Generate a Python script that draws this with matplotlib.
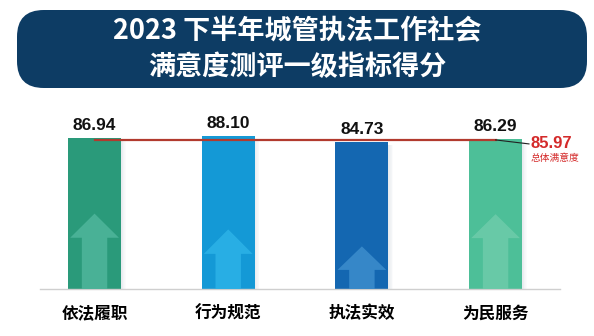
import matplotlib.pyplot as plt
from matplotlib.patches import FancyBboxPatch, Polygon, Rectangle

plt.rcParams['font.family'] = ['Noto Sans CJK SC', 'DejaVu Sans']

# 一级指标得分
categories = ["依法履职", "行为规范", "执法实效", "为民服务"]
scores = [86.94, 88.10, 84.73, 86.29]
overall = 85.97
overall_label = "总体满意度"
title_lines = ["2023 下半年城管执法工作社会", "满意度测评一级指标得分"]

bar_colors = ["#2a9a7a", "#1499d6", "#1467b1", "#4dbf98"]
arrow_colors = ["#4db49a", "#2bb1e6", "#3a8bcb", "#6ccba9"]
# arrow tip height as a share of each bar
arrow_share = [0.50, 0.39, 0.29, 0.50]

num_font = ["Liberation Sans", "DejaVu Sans"]

fig = plt.figure(figsize=(5.94, 3.36), dpi=100)

# title banner
banner = FancyBboxPatch((17 / 594, 1 - 88 / 336), 570 / 594, 78 / 336,
                        boxstyle="round,pad=0,rounding_size=0.045",
                        transform=fig.transFigure, facecolor="#0d3c64",
                        edgecolor="none", mutation_aspect=594 / 336)
fig.patches.append(banner)
fig.text(0.5, 1 - 31 / 336, title_lines[0], color="white", fontsize=19.5,
         fontweight="bold", ha="center", va="center")
fig.text(0.5, 1 - 67 / 336, title_lines[1], color="white", fontsize=19.5,
         fontweight="bold", ha="center", va="center")

ax = fig.add_axes([40 / 594, 47 / 336, 520 / 594, 189 / 336])
ax.set_xlim(-0.408, 3.482)
ax.set_ylim(0, 109)
for s in ["top", "right", "left"]:
    ax.spines[s].set_visible(False)
ax.spines["bottom"].set_color("#cfcfcf")
ax.spines["bottom"].set_linewidth(1)
ax.set_yticks([])
ax.set_xticks(range(len(categories)))
ax.set_xticklabels(categories, fontsize=12, fontweight="bold")
ax.tick_params(axis="x", length=0, pad=11)

width = 0.396
x = list(range(len(categories)))

# soft shadow on the right of each bar
for xi, v in zip(x, scores):
    for k in range(6):
        ax.add_patch(Rectangle((xi + width / 2 + k * 0.006, 0), 0.006, v - 1.5,
                               facecolor="#9aa6b8", alpha=0.22 * (1 - k / 6),
                               edgecolor="none", zorder=1))

ax.bar(x, scores, width=width, color=bar_colors, zorder=2)

# light arrows inside the bars
for xi, v, c, sh in zip(x, scores, arrow_colors, arrow_share):
    tip = v * sh
    base = tip - v * 0.16
    half = width / 2 * 0.92
    shaft = width * 0.24
    pts = [(xi - shaft, 0), (xi - shaft, base), (xi - half, base), (xi, tip),
           (xi + half, base), (xi + shaft, base), (xi + shaft, 0)]
    ax.add_patch(Polygon(pts, closed=True, facecolor=c, edgecolor="none",
                         alpha=0.9, zorder=3))

for xi, v in zip(x, scores):
    ax.text(xi, v + 3.2, f"{v:.2f}", ha="center", va="bottom", fontsize=12.5,
            fontweight="bold", family=num_font, color="#111111", zorder=5)

# overall satisfaction line
ax.plot([x[0], x[-1]], [overall, overall], color="#b23a2e", lw=1.6, zorder=4)
ax.plot([x[-1], x[-1] + 0.25], [overall, overall - 2.3], color="#222222",
        lw=0.8, zorder=4)
ax.text(x[-1] + 0.26, overall - 2.3, f"{overall:.2f}", ha="left", va="center",
        fontsize=12, fontweight="bold", family=num_font, color="#d42a2a")
ax.text(x[-1] + 0.26, overall - 10.5, overall_label, ha="left", va="center",
        fontsize=7, color="#d42a2a")

fig.savefig("out.png", dpi=100)
